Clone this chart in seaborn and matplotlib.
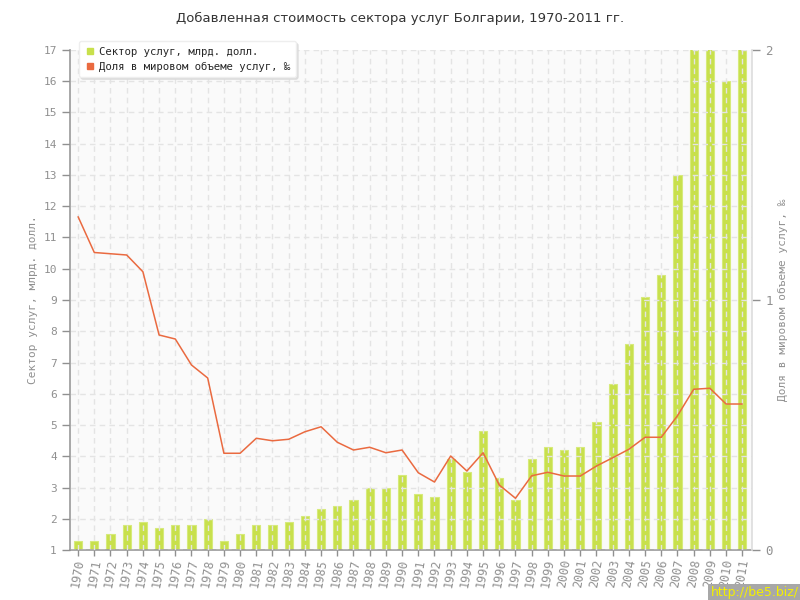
"""
Добавленная стоимость сектора услуг Болгарии, 1970-2011 гг.
"""

import matplotlib
matplotlib.use("Agg")
import matplotlib.pyplot as plt
from matplotlib.lines import Line2D
import pandas as pd
import seaborn as sns

# данные
years = list(range(1970, 2012))
services_bn = [1.3, 1.3, 1.5, 1.8, 1.9, 1.7, 1.8, 1.8, 2.0, 1.3,
               1.5, 1.8, 1.8, 1.9, 2.1, 2.3, 2.4, 2.6, 3.0, 3.0,
               3.4, 2.8, 2.7, 3.9, 3.5, 4.8, 3.3, 2.6, 3.9, 4.3,
               4.2, 4.3, 5.1, 6.3, 7.6, 9.1, 9.8, 13.0, 17.6, 17.3,
               16.0, 17.4]
world_share = [1.333, 1.19, 1.185, 1.18, 1.113, 0.86, 0.844, 0.74, 0.688, 0.387,
               0.387, 0.447, 0.437, 0.443, 0.473, 0.493, 0.431, 0.40, 0.411, 0.389,
               0.40, 0.309, 0.272, 0.376, 0.316, 0.389, 0.26, 0.207, 0.297, 0.311,
               0.296, 0.296, 0.336, 0.369, 0.403, 0.451, 0.451, 0.537, 0.643, 0.647,
               0.584, 0.584]

title = "Добавленная стоимость сектора услуг Болгарии, 1970-2011 гг."
label_bar = "Сектор услуг, млрд. долл."
label_line = "Доля в мировом объеме услуг, ‰"

BAR_COLOR = "#c8e04c"
LINE_COLOR = "#ea6a40"
TEXT_GRAY = "#909090"
FONT = ["DejaVu Sans Mono", "DejaVu Sans"]

sns.set_style("white")
plt.rcParams["font.family"] = FONT

df = pd.DataFrame({"year": years, "services": services_bn, "share": world_share})

fig = plt.figure(figsize=(8, 6), dpi=100)
ax = fig.add_axes([0.0875, 0.0833, 0.8525, 0.8334])
ax.set_facecolor("#fafafa")

sns.barplot(data=df, x="year", y="services", native_scale=True, width=0.5,
            color=BAR_COLOR, saturation=1, edgecolor="#d6ea7a", linewidth=0.8, ax=ax)

ax.set_xlim(1969.5, 2011.6)
ax.set_ylim(1, 17)
ax.set_yticks(range(1, 18))
ax.set_xticks(years)
ax.set_xticklabels([str(y) for y in years], rotation=80, fontsize=8.5, color=TEXT_GRAY)
ax.tick_params(axis="y", labelsize=8, labelcolor=TEXT_GRAY, color=TEXT_GRAY,
               length=6, width=1, direction="out", left=True)
ax.tick_params(axis="x", color=TEXT_GRAY, length=4, width=1, direction="out",
               bottom=True, pad=2)
ax.set_xlabel("")
ax.set_ylabel(label_bar, color=TEXT_GRAY, fontsize=8)

ax.set_axisbelow(False)
ax.grid(True, axis="both", color="#e4e4e4", linestyle=(0, (4, 3)), linewidth=1)

for side in ["top", "right"]:
    ax.spines[side].set_visible(False)
for side in ["left", "bottom"]:
    ax.spines[side].set_color("#999999")
    ax.spines[side].set_linewidth(1.2)

# правая ось — доля в мировом объеме
ax2 = ax.twinx()
sns.lineplot(data=df, x="year", y="share", color=LINE_COLOR, linewidth=1.1, ax=ax2)
ax2.set_ylim(0, 2)
ax2.set_yticks([0, 1, 2])
ax2.tick_params(axis="y", labelsize=9, labelcolor=TEXT_GRAY, color=TEXT_GRAY,
                length=6, width=1, direction="out", right=True)
ax2.set_ylabel(label_line, color=TEXT_GRAY, fontsize=8)
ax2.set_xlabel("")
for side in ["top", "left", "bottom"]:
    ax2.spines[side].set_visible(False)
ax2.spines["right"].set_color("#dddddd")
ax2.spines["right"].set_linewidth(1.2)

fig.text(0.5, 0.97, title, ha="center", va="center", fontsize=9.5, color="#333333",
         family=["DejaVu Sans"])

handles = [
    Line2D([], [], marker="s", linestyle="none", color=BAR_COLOR, markersize=5),
    Line2D([], [], marker="s", linestyle="none", color=LINE_COLOR, markersize=5),
]
leg = ax2.legend(handles, [label_bar, label_line], loc="upper left",
                 bbox_to_anchor=(0.092, 0.94), bbox_transform=fig.transFigure,
                 fontsize=7.7, frameon=True, fancybox=True,
                 shadow={"color": "#dcdcdc", "alpha": 1, "ox": 1.5, "oy": -1.5},
                 handletextpad=0.4, borderpad=0.5, labelspacing=0.45, handlelength=1)
leg.get_frame().set_facecolor("white")
leg.get_frame().set_edgecolor("#eeeeee")
leg.get_frame().set_alpha(1)

fig.text(0.998, 0.002, "http://be5.biz/", ha="right", va="bottom", fontsize=9,
         color="#f4f000", family=["DejaVu Sans"],
         bbox=dict(facecolor="#a8a8a8", edgecolor="none", pad=1.5))

fig.savefig("out.png", dpi=100)
plt.close(fig)
